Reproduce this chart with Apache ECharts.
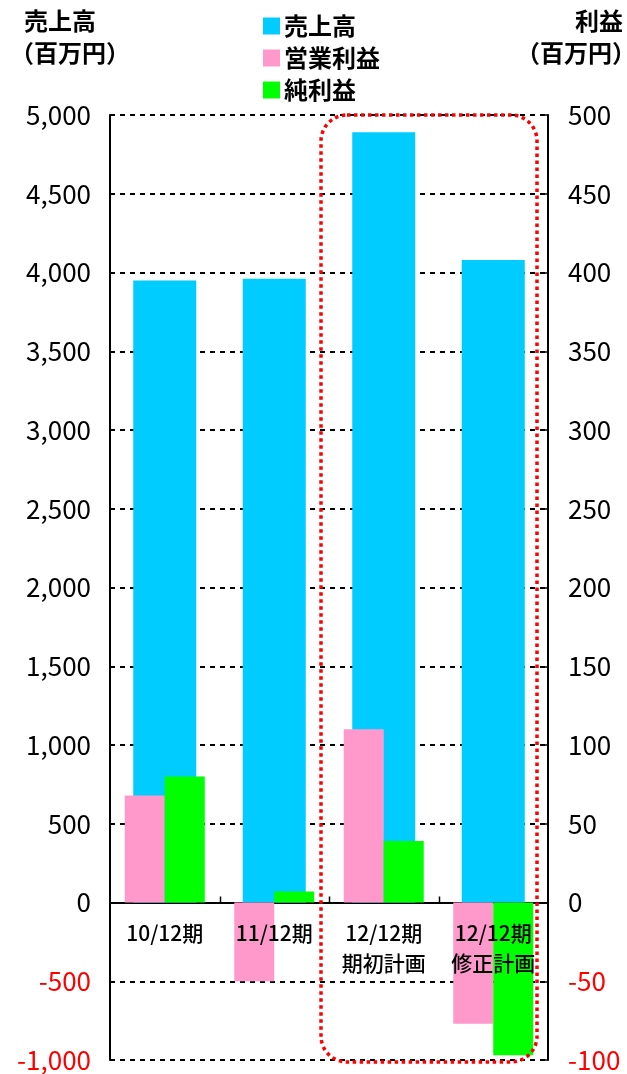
<!DOCTYPE html>
<html><head><meta charset="utf-8">
<script src="https://cdn.jsdelivr.net/npm/echarts@6/dist/echarts.min.js"></script>
<style>html,body{margin:0;padding:0;background:#fff}#c{width:627px;height:1074px}</style>
</head><body><div id="c"></div>
<script>
const categories = ['10/12期', '11/12期', '12/12期\n期初計画', '12/12期\n修正計画'];
const sales = [3950, 3960, 4890, 4080];
const opProfit = [68, -50, 110, -77];
const netProfit = [80, 7, 39, -97];
const leftTicks = {min: -1000, max: 5000, interval: 500};
const rightTicks = {min: -100, max: 500, interval: 50};

const FONT = '"Noto Sans CJK JP", sans-serif';
const chart = echarts.init(document.getElementById('c'));
const labelFmt = v => v.toLocaleString('en-US');
const labelColor = v => (Number(String(v).replace(/,/g,'')) < 0 ? '#FF0000' : '#000');

const tf = 'bold 24px ' + FONT;
const titles = [
  {type: 'text', left: 24, top: 9, style: {text: '売上高', font: tf, fill: '#000'}},
  {type: 'text', left: 10, top: 41, style: {text: '（百万円）', font: tf, fill: '#000'}},
  {type: 'text', right: 4, top: 9, style: {text: '利益', font: tf, fill: '#000'}},
  {type: 'text', right: -9, top: 41, style: {text: '（百万円）', font: tf, fill: '#000'}}
];

chart.setOption({
  animation: false,
  grid: {left: 110, right: 79, top: 115, bottom: 14, containLabel: false, outerBoundsMode: 'none'},
  legend: {
    orient: 'vertical', left: 258, top: 9, itemWidth: 17, itemHeight: 17, itemGap: 8, icon: 'rect',
    textStyle: {fontFamily: FONT, fontSize: 24, fontWeight: 'bold', color: '#000', padding: [0, 0, 0, -1]},
    data: ['売上高', '営業利益', '純利益']
  },
  graphic: titles,
  xAxis: [
    {type: 'category', data: categories,
     axisLine: {onZero: true, onZeroAxisIndex: 0, lineStyle: {color: '#000', width: 2}},
     axisTick: {show: false}, axisLabel: {show: false}},
    {type: 'category', data: categories, show: false}
  ],
  yAxis: [
    {type: 'value', min: leftTicks.min, max: leftTicks.max, interval: leftTicks.interval,
     axisLine: {show: true, onZero: false, lineStyle: {color: '#000', width: 2}},
     axisTick: {show: true, inside: true, length: 5, lineStyle: {color: '#000', width: 1.5}},
     axisLabel: {margin: 19, fontFamily: FONT, fontSize: 26, formatter: v => labelFmt(v),
       color: v => labelColor(v)},
     splitLine: {show: true, lineStyle: {color: '#000', type: [5, 5], width: 2}}},
    {type: 'value', min: rightTicks.min, max: rightTicks.max, interval: rightTicks.interval,
     axisLine: {show: true, onZero: false, lineStyle: {color: '#000', width: 2}},
     axisTick: {show: true, inside: true, length: 5, lineStyle: {color: '#000', width: 1.5}},
     axisLabel: {margin: 20, fontFamily: FONT, fontSize: 26, color: v => labelColor(v)},
     splitLine: {show: false}}
  ],
  series: [
    {name: '売上高', type: 'bar', xAxisIndex: 0, yAxisIndex: 0, data: sales, barWidth: 63,
     itemStyle: {color: '#00CCFF'}},
    {name: '営業利益', type: 'bar', xAxisIndex: 1, yAxisIndex: 1, data: opProfit, barWidth: 40, barGap: '0%',
     itemStyle: {color: '#FF99CC'}},
    {name: '純利益', type: 'bar', xAxisIndex: 1, yAxisIndex: 1, data: netProfit, barWidth: 40, barGap: '0%',
     itemStyle: {color: '#00FF00'}},
    // category labels placed just below the zero line
    {type: 'scatter', xAxisIndex: 0, yAxisIndex: 0, symbolSize: 0, silent: true, z: 10,
     data: categories.map((c, i) => [i, 0]),
     label: {show: true, position: 'bottom', distance: 16, fontFamily: FONT, fontSize: 21, fontWeight: 500,
       color: '#000', opacity: 1, lineHeight: 30, formatter: p => categories[p.dataIndex]}},
    // small upward ticks at category boundaries on the zero line
    {type: 'custom', xAxisIndex: 0, yAxisIndex: 0, silent: true, z: 10,
     data: [[1, 0], [2, 0], [3, 0]],
     renderItem: (params, api) => {
       const p = api.coord([api.value(0), api.value(1)]);
       const w = api.size([1, 0])[0];
       const x = Math.round(p[0] - w / 2) + 0.5;
       return {type: 'line', shape: {x1: x, y1: p[1], x2: x, y2: p[1] - 6},
         style: {stroke: '#000', lineWidth: 1.5}};
     }}
  ]
});

// Dotted rounded annotation around the plan columns
const x2 = chart.convertToPixel({xAxisIndex: 0}, 2);
const x3 = chart.convertToPixel({xAxisIndex: 0}, 3);
const catW = x3 - x2;
const yTop = chart.convertToPixel({yAxisIndex: 0}, leftTicks.max);
const yBot = chart.convertToPixel({yAxisIndex: 0}, leftTicks.min);
const rx0 = x2 - catW / 2 - 8;
const rx1 = x3 + catW / 2 - 11;
chart.setOption({graphic: titles.concat([
  {type: 'rect', z: 100, shape: {x: rx0, y: yTop, width: rx1 - rx0, height: yBot - yTop + 2, r: 26},
   style: {fill: 'none', stroke: '#FF0000', lineWidth: 3.5, lineDash: [3.5, 3.5]}}
])});
</script></body></html>
